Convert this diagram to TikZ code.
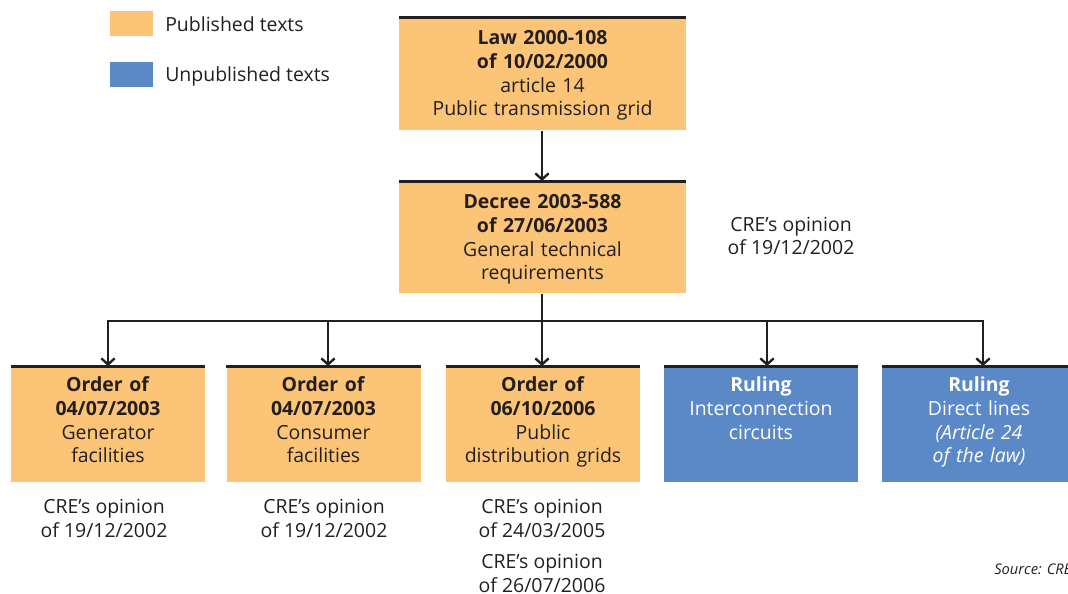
\documentclass[tikz,border=0pt]{standalone}
\usepackage{fontspec}
\setmainfont{Open Sans}
\usetikzlibrary{arrows.meta}
\definecolor{pub}{HTML}{FBC477}
\definecolor{unpub}{HTML}{5B88C6}
\definecolor{ink}{HTML}{231F20}
\begin{document}
\begin{tikzpicture}[x=0.75pt,y=-0.75pt,
  txt/.style={font=\fontsize{14.6}{17.8}\selectfont, text=ink, inner sep=0pt, align=center},
  bx/.style={txt, anchor=north},
  bigbox/.style={bx, text width=215.25pt, text height=20.5pt},
  smallbox/.style={bx, text width=145.5pt, text height=19pt, text depth=68pt},
  pubfill/.style={fill=pub},
  unpubfill/.style={fill=unpub, text=white},
  topline/.style={draw=ink, line width=2.25pt},
  conn/.style={draw=ink, line width=1.8pt},
  arr/.style={conn, -{Straight Barb[length=4.5pt,width=10pt]}},
  legsq/.style={anchor=north west, inner sep=0pt, minimum width=32.25pt, minimum height=18.75pt},
]
\useasboundingbox (0,0) rectangle (1068,593);

% legend
\node[legsq, fill=pub] (lgpub) at (110,11) {};
\node[txt, anchor=west] (lgpubt) at (165,24) {Published texts};
\node[legsq, fill=unpub] (lgunp) at (110,62) {};
\node[txt, anchor=west] (lgunpt) at (165,76) {Unpublished texts};

% top boxes
\node[bigbox, pubfill, text depth=64.25pt] (law) at (542.5,17)
  {\textbf{Law 2000-108}\\\textbf{of 10/02/2000}\\article 14\\Public transmission grid};
\node[bigbox, pubfill, text depth=63.5pt] (dec) at (542.5,181)
  {\textbf{Decree 2003-588}\\\textbf{of 27/06/2003}\\General technical\\requirements};
\node[txt] (opdec) at (791,236) {CRE’s opinion\\of 19/12/2002};

% bottom boxes
\node[smallbox, pubfill] (b1) at (108,366)
  {\textbf{Order of}\\\textbf{04/07/2003}\\Generator\\facilities};
\node[smallbox, pubfill] (b2) at (323.5,366)
  {\textbf{Order of}\\\textbf{04/07/2003}\\Consumer\\facilities};
\node[smallbox, pubfill] (b3) at (543,366)
  {\textbf{Order of}\\\textbf{06/10/2006}\\Public\\distribution grids};
\node[smallbox, unpubfill] (b4) at (761,366)
  {\textbf{Ruling}\\Interconnection\\circuits};
\node[smallbox, unpubfill] (b5) at (979,366)
  {\textbf{Ruling}\\Direct lines\\\textit{(Article 24}\\\textit{of the law)}};

\foreach \n in {law,dec,b1,b2,b3,b4,b5}
  \draw[topline] (\n.north west) -- (\n.north east);

% opinions below
\node[txt] (op1) at (104,518.5) {CRE’s opinion\\of 19/12/2002};
\node[txt] (op2) at (324,518.5) {CRE’s opinion\\of 19/12/2002};
\node[txt] (op3) at (542,518.5) {CRE’s opinion\\of 24/03/2005};
\node[txt] (op4) at (542,573.5) {CRE’s opinion\\of 26/07/2006};
\node[txt, anchor=west, font=\fontsize{11}{13}\selectfont\itshape] (src) at (994,569) {Source: CRE};

% connectors
\coordinate (j1) at (108,321);
\coordinate (j2) at (328,321);
\coordinate (j3) at (542,321);
\coordinate (j4) at (767,321);
\coordinate (j5) at (983,321);
\draw[arr] (law.south -| j3) -- (dec.north -| j3);
\draw[arr] (dec.south -| j3) -- (b3.north -| j3);
\draw[conn, {Straight Barb[length=4.5pt,width=10pt]}-{Straight Barb[length=4.5pt,width=10pt]}, line join=miter]
  (b1.north -| j1) -- (j1) -- (j5) -- (b5.north -| j5);
\draw[arr] (j2) -- (b2.north -| j2);
\draw[arr] (j4) -- (b4.north -| j4);
\end{tikzpicture}
\end{document}
